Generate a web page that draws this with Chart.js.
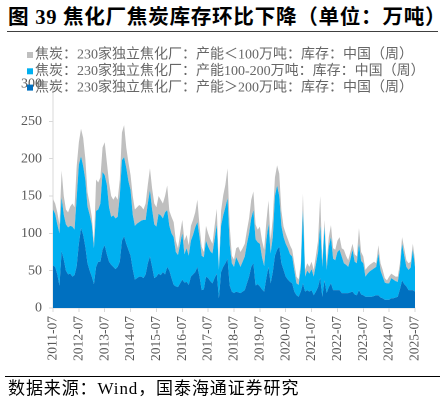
<!DOCTYPE html>
<html><head><meta charset="utf-8">
<script src="https://cdn.jsdelivr.net/npm/chart.js@4.4.1/dist/chart.umd.min.js"></script>
<style>
html,body{margin:0;padding:0;background:#fff;}
#wrap{position:relative;width:445px;height:406px;overflow:hidden;}
#title{position:absolute;left:8px;top:4px;font:bold 20.6px 'Liberation Serif','Noto Sans CJK SC';letter-spacing:0.7px;color:#000;white-space:nowrap;line-height:26px;}
#rule1{position:absolute;left:7px;top:31px;width:431px;border-top:1.5px solid #404040;}
#rule2{position:absolute;left:5px;top:376px;width:435px;border-top:1.5px solid #000;}
#src{position:absolute;left:8px;top:378px;font:17px 'Liberation Serif','Noto Sans CJK SC';letter-spacing:0.9px;color:#000;white-space:nowrap;line-height:22px;}
#cv{position:absolute;left:0;top:0;width:445px;height:406px;}
</style></head>
<body>
<div id="wrap">
<div id="title">图 39 焦化厂焦炭库存环比下降（单位：万吨）</div>
<div id="rule1"></div>
<div id="cv"><canvas id="c"></canvas></div>
<div id="rule2"></div>
<div id="src">数据来源：Wind，国泰海通证券研究</div>
</div>
<script>
// Weekly chart read monthly, 2011-07 .. 2025-07 (169 months), unit: 万吨
const tickLabels = ['2011-07','2012-07','2013-07','2014-07','2015-07','2016-07','2017-07','2018-07','2019-07','2020-07','2021-07','2022-07','2023-07','2024-07','2025-07'];
const seriesNames = [
  '焦炭：230家独立焦化厂：产能＞200万吨：库存：中国（周）',
  '焦炭：230家独立焦化厂：产能100-200万吨：库存：中国（周）',
  '焦炭：230家独立焦化厂：产能＜100万吨：库存：中国（周）'
];
// capacity > 200
const large = [
57,55,45,30,76,65,50,45,46,42,44,56,
86,107,98,82,60,50,42,32,55,62,62,78,
84,72,62,58,55,52,55,62,90,96,86,78,
70,52,38,40,42,42,40,45,60,69,55,40,
42,46,44,48,45,55,50,40,31,29,28,33,
38,34,35,31,42,45,48,55,42,24,25,42,
40,36,33,40,46,13,48,55,60,66,30,22,
20,22,21,20,22,24,33,42,55,60,30,32,
29,25,22,40,55,33,48,70,78,82,60,51,
42,38,35,33,22,17,15,22,33,22,24,22,
24,17,22,28,40,15,37,20,28,33,24,24,
24,24,20,20,20,20,21,22,18,17,24,18,
17,15,15,15,15,16,17,17,14,13,11,11,
11,13,13,14,15,25,37,32,29,24,24,24,
22];
// capacity 100-200
const medium = [
75,71,67,70,72,60,62,63,64,67,61,92,
106,96,92,90,76,75,70,48,75,70,78,104,
94,93,73,64,69,68,67,88,108,106,102,92,
88,73,72,73,73,75,78,73,80,89,77,72,
67,80,80,72,83,76,60,60,64,46,43,52,
62,38,45,39,48,53,60,60,53,46,43,48,
42,40,40,52,66,38,62,69,75,81,55,38,
35,46,41,35,40,45,53,58,65,71,62,56,
57,43,34,50,58,40,47,80,86,68,50,44,
44,42,37,36,28,16,16,30,98,20,26,24,
28,25,36,47,70,40,72,31,54,62,42,40,
51,54,49,40,38,35,44,56,44,43,62,45,
43,27,31,34,36,37,38,56,36,29,23,22,
22,27,25,22,20,27,49,38,26,27,30,54,
33];
// capacity < 100
const small = [
14,14,16,12,36,25,20,20,26,31,30,42,
30,37,38,28,19,15,10,8,42,36,35,33,
44,30,33,28,21,30,23,22,37,43,27,25,
20,25,22,22,23,19,14,22,25,29,28,28,
26,24,21,20,22,33,20,22,20,15,9,15,
18,18,18,14,20,20,20,30,15,12,7,20,
18,16,13,18,21,4,20,27,30,40,25,10,
10,12,20,20,18,17,18,20,25,25,20,17,
23,22,22,25,31,18,25,25,27,30,20,14,
14,12,12,9,10,9,7,8,22,9,10,9,
10,9,12,15,40,9,9,9,13,16,14,14,
15,17,11,18,12,9,10,8,10,9,21,12,
9,9,9,9,9,9,5,11,10,9,6,4,
9,6,6,6,7,8,9,10,9,9,8,8,
9];

const colors = ['#0070C0','#00B0F0','#BFBFBF'];
const toPts = arr => arr.map((v,i)=>({x:i,y:v}));
const seriesValues = [large, medium, small];

const legendPlugin = {
  id:'customLegend',
  afterDraw(chart){
    const ctx = chart.ctx;
    ctx.save();
    ctx.font = "14px 'Liberation Serif','Noto Sans CJK SC'";
    ctx.textBaseline = 'middle';
    [2,1,0].forEach((di,row)=>{
      const ds = chart.data.datasets[di];
      const y = 55 + row*16.3;
      ctx.fillStyle = ds.backgroundColor;
      ctx.fillRect(27, y-3, 6, 6);
      ctx.fillStyle = '#666666';
      ctx.fillText(ds.label, 35, y);
    });
    ctx.restore();
  }
};

new Chart(document.getElementById('c'), {
  type:'line',
  data:{
    datasets: seriesValues.map((vals,i)=>({
      label: seriesNames[i],
      data: toPts(vals),
      backgroundColor: colors[i],
      borderColor: colors[i],
      borderWidth: 0,
      pointRadius: 0,
      tension: 0,
      fill: i===0 ? 'origin' : '-1'
    }))
  },
  options:{
    responsive:true,
    maintainAspectRatio:false,
    animation:false,
    devicePixelRatio: 2,
    layout:{padding:{top:84,left:0,right:30,bottom:28}},
    plugins:{legend:{display:false},tooltip:{enabled:false}},
    scales:{
      x:{
        type:'linear', min:0, max:168,
        afterFit(s){ s.height = 70; },
        grid:{drawOnChartArea:false, drawTicks:true, tickLength:4, color:'#d9d9d9'},
        border:{display:true, color:'#d9d9d9', width:1},
        ticks:{
          stepSize:12, autoSkip:false, minRotation:90, maxRotation:90, padding:4,
          color:'#595959', font:{family:"'Liberation Serif'", size:13.5},
          callback: v => tickLabels[v/12]
        }
      },
      y:{
        stacked:true, min:0, max:300,
        afterFit(s){ s.width = 53; },
        grid:{drawOnChartArea:false, drawTicks:true, tickLength:4, color:'#d9d9d9'},
        border:{display:true, color:'#d9d9d9', width:1},
        ticks:{stepSize:50, padding:7, color:'#595959', font:{family:"'Liberation Serif'", size:14}}
      }
    }
  },
  plugins:[legendPlugin]
});
</script>
</body></html>
